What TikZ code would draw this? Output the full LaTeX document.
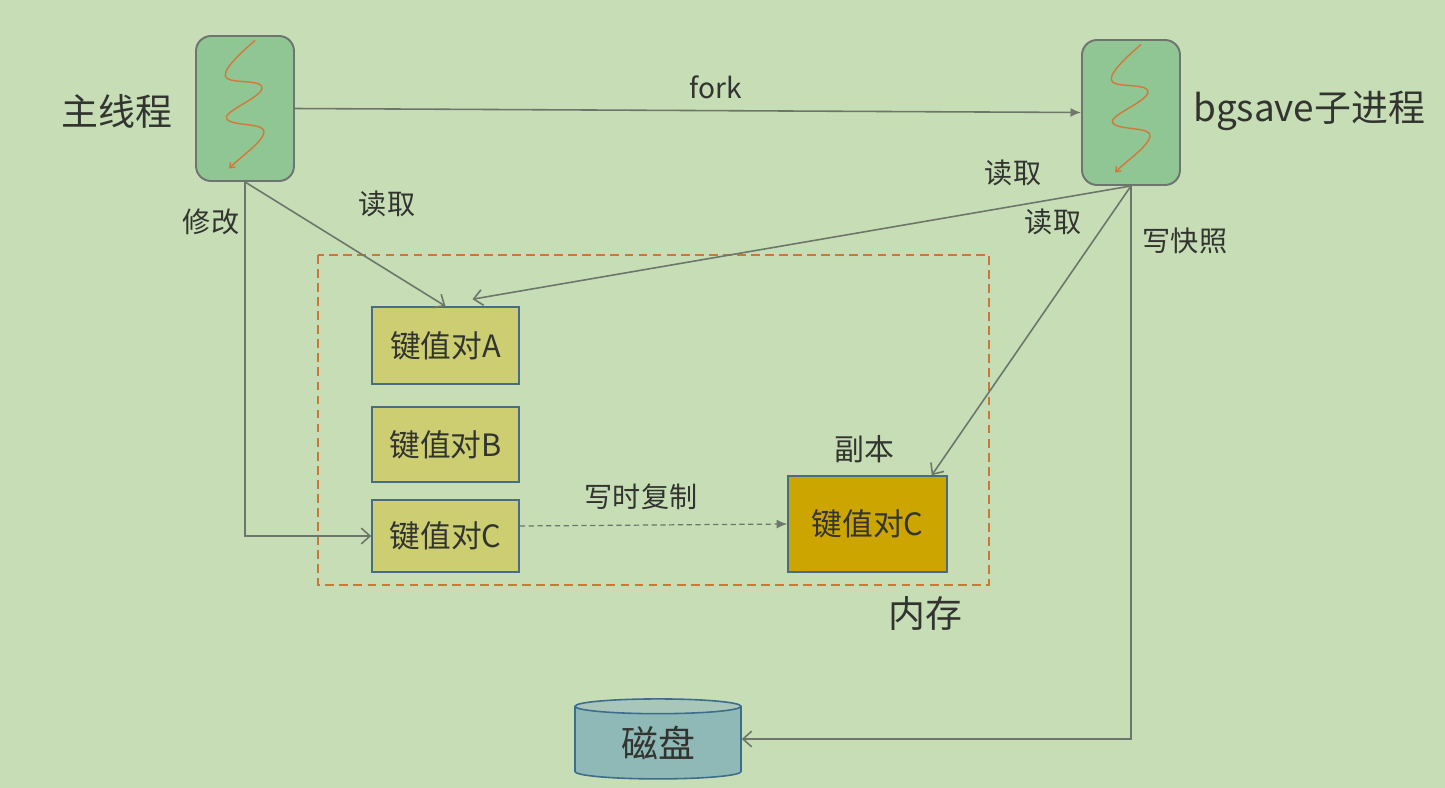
\documentclass[tikz,border=0pt]{standalone}
\usepackage{fontspec}
\setmainfont{Noto Sans CJK SC}
\usetikzlibrary{shapes.geometric,arrows.meta,calc}

\definecolor{bgc}{RGB}{199,221,181}
\definecolor{threadfill}{RGB}{144,198,148}
\definecolor{threadline}{RGB}{110,116,110}
\definecolor{wavec}{RGB}{212,120,58}
\definecolor{linec}{RGB}{108,118,106}
\definecolor{kvfill}{RGB}{205,205,113}
\definecolor{kvline}{RGB}{72,108,132}
\definecolor{copyfill}{RGB}{204,165,0}
\definecolor{memline}{RGB}{204,118,56}
\definecolor{diskbody}{RGB}{143,185,183}
\definecolor{disktop}{RGB}{168,198,185}
\definecolor{diskline}{RGB}{62,108,140}
\definecolor{txtc}{RGB}{50,52,48}

\begin{document}
\begin{tikzpicture}[x=0.02cm,y=-0.02cm,>={Straight Barb[length=5pt,width=9pt]},
    every node/.style={text=txtc},
    thread/.style={draw=threadline, fill=threadfill, rounded corners=0.3cm, line width=1.1pt, minimum width=1.96cm, minimum height=2.9cm, inner sep=0pt},
    wave/.style={draw=wavec, line width=0.8pt},
    kv/.style={draw=kvline, fill=kvfill, line width=0.9pt, minimum width=2.94cm, inner sep=0pt, font=\fontsize{17.5pt}{20pt}\selectfont},
    disk/.style={shape=cylinder, shape border rotate=90, aspect=0.2, draw=diskline, line width=0.9pt, cylinder uses custom fill, cylinder body fill=diskbody, cylinder end fill=disktop, minimum width=3.32cm, minimum height=1.6cm, inner sep=0pt, font=\fontsize{21pt}{24pt}\selectfont},
    conn/.style={draw=linec, line width=0.9pt},
    lbl/.style={font=\fontsize{16pt}{19pt}\selectfont},
    big/.style={font=\fontsize{21pt}{24pt}\selectfont}]
    \useasboundingbox[fill=bgc] (0,0) rectangle (1445,788);

    % threads
    \node[thread] (tm) at (245,108.5) {};
    \node[thread] (bg) at (1131,112.5) {};
    \foreach \t in {tm,bg}
        \draw[wave,-{Straight Barb[length=2.5pt,width=4pt]},shift={(\t.center)}] (10,-68) .. controls (-5,-55) and (-26,-36) .. (-18,-30)
            .. controls (-10,-25) and (19,-29) .. (17,-20) .. controls (15,-10) and (-25,4) .. (-18,11)
            .. controls (-11,18) and (21,14) .. (19,24) .. controls (17,34) and (-4,48) .. (-16,60);
    \node[big] (tmlbl) at (117,111) {主线程};
    \node[big,anchor=west] (bglbl) at (1187,111) {bgsave子进程};

    % memory
    \draw[memline, dashed, line width=1.1pt, dash pattern=on 5pt off 3pt] (318,255) rectangle (989,585);
    \node[big] (memlbl) at (925,614) {内存};
    \node[kv, minimum height=1.54cm] (A) at (445.5,345.5) {键值对A};
    \node[kv, minimum height=1.5cm] (B) at (445.5,444.5) {键值对B};
    \node[kv, minimum height=1.44cm] (C) at (445.5,536) {键值对C};
    \node[kv, fill=copyfill, minimum width=3.18cm, minimum height=1.92cm] (cp) at (867.5,524) {键值对C};
    \node[lbl, font=\fontsize{17pt}{20pt}\selectfont] (cplbl) at (864,449) {副本};

    % disk
    \node[disk] (dk) at (658,743) {磁盘};

    % connectors
    \draw[conn,-{Latex[length=6pt,width=5pt]}] (tm.east) -- (bg.west);
    \node[lbl] (forklbl) at (716,87) {fork};
    \draw[conn,->] (tm.south) -- (A.north);
    \node[lbl] (rdA) at (387,204) {读取};
    \draw[conn,->] (tm.south) |- (C.west);
    \node[lbl] (modlbl) at (211,222) {修改};
    \draw[conn,->] (bg.south) -- ($(A.north)+(27,-7)$);
    \node[lbl] (rdB) at (1013,173) {读取};
    \draw[conn,->] (bg.south) -- ($(cp.north east)+(-16,0)$);
    \node[lbl] (rdC) at (1053,222) {读取};
    \draw[conn,->] (bg.south) |- ($(dk.east)+(0,-4)$);
    \node[lbl] (snaplbl) at (1185,241) {写快照};
    \draw[conn, line width=0.7pt, dash pattern=on 3pt off 2pt,-{Latex[length=6pt,width=5pt]}] ($(C.east)+(0,-10)$) -- (cp.west);
    \node[lbl] (cowlbl) at (641,497) {写时复制};
\end{tikzpicture}
\end{document}
